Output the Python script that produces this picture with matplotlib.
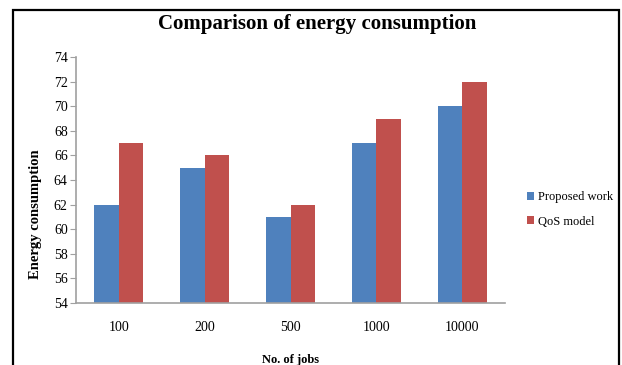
import matplotlib.pyplot as plt
import numpy as np
from matplotlib.patches import Rectangle

jobs = ["100", "200", "500", "1000", "10000"]
proposed = [62, 65, 61, 67, 70]
qos = [67, 66, 62, 69, 72]

plt.rcParams["font.family"] = "Liberation Serif"

fig = plt.figure(figsize=(6.22, 3.65), dpi=100)
W, H = 622, 365
ax = fig.add_axes([76 / W, 1 - 303 / H, (505 - 76) / W, (303 - 57) / H])

x = np.arange(len(jobs))
w = 0.285
ax.bar(x - w / 2, proposed, w, color="#4F81BD", label="Proposed work")
ax.bar(x + w / 2, qos, w, color="#C0504D", label="QoS model")

ax.set_xlim(-0.5, len(jobs) - 0.5)
ax.set_ylim(54, 74)
ax.set_yticks(range(54, 75, 2))
ax.set_xticks(x)
ax.set_xticklabels(jobs)
ax.tick_params(axis="x", length=0, pad=13, labelsize=10)
ax.tick_params(axis="y", length=4, color="#A0A0A0", labelsize=10, pad=2)
for s in ["top", "right"]:
    ax.spines[s].set_visible(False)
for s in ["left", "bottom"]:
    ax.spines[s].set_color("#A0A0A0")
    ax.spines[s].set_linewidth(1.2)

ax.set_xlabel("No. of jobs", fontsize=9, fontweight="bold", labelpad=14)
ax.set_ylabel("Energy consumption", fontsize=10.5, fontweight="bold")
ax.yaxis.set_label_coords(-0.08, 0.362)

fig.text(317 / W, 1 - 24 / H, "Comparison of energy consumption",
         ha="center", va="center", fontsize=15, fontweight="bold")

ax.legend(loc="center left", bbox_to_anchor=(1.025, 0.38), frameon=False,
          fontsize=9, handlelength=0.6, handleheight=0.6, handletextpad=0.3,
          labelspacing=1.0)

fig.patches.append(Rectangle((13 / W, -0.1), (619 - 13) / W, 1.1 - 10 / H,
                             transform=fig.transFigure, fill=False,
                             edgecolor="black", linewidth=1.6))

fig.savefig("out.png", dpi=100)
